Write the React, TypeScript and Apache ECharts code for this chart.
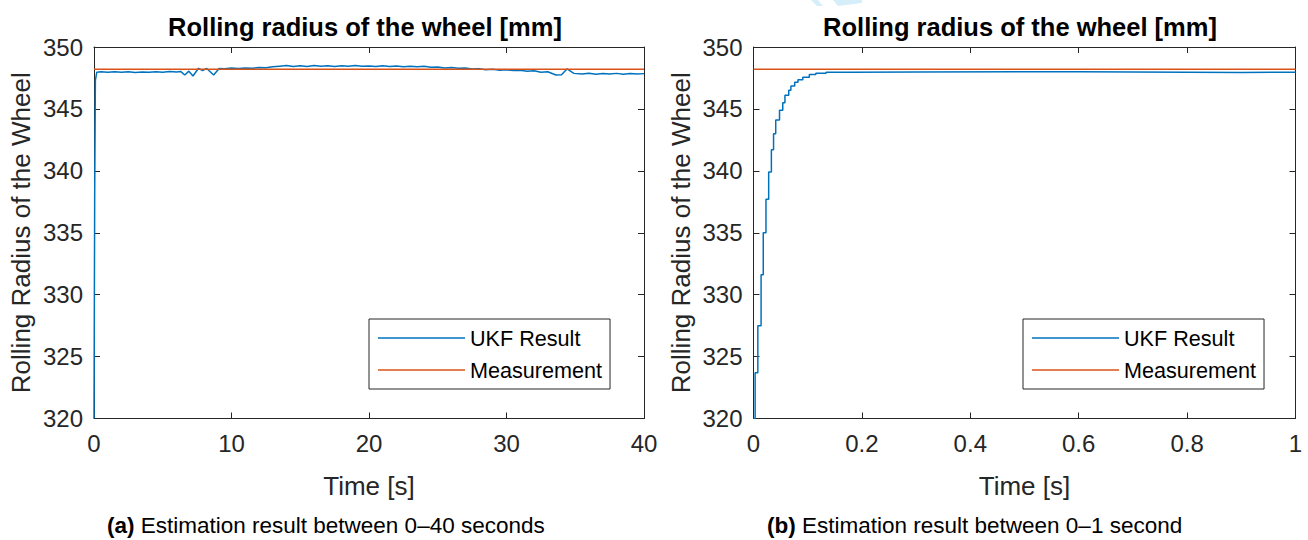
import React, { useEffect, useRef } from "react";
import * as echarts from "echarts";

const FONT = '"Liberation Sans", Arial, Helvetica, sans-serif';
const AX = "#262626";
const BLUE = "#0072BD";
const ORANGE = "#D95319";

const TITLE = "Rolling radius of the wheel [mm]";
const Y_NAME = "Rolling Radius of the Wheel";
const X_NAME = "Time [s]";
const LEGEND_NAMES = ["UKF Result", "Measurement"];
const CAPTION_A = ["(a)", " Estimation result between 0–40 seconds"];
const CAPTION_B = ["(b)", " Estimation result between 0–1 second"];

const MEASUREMENT = 348.2;

// (a) 0–40 s
const leftTime = [
  0, 0.05, 0.1, 0.2, 0.5, 1, 1.5, 2, 2.5, 3, 3.5, 4, 4.5, 5, 5.5, 6, 6.3, 6.6, 6.9, 7.2, 7.6, 7.9, 8.2,
  8.7, 9.1, 9.5, 10, 10.5, 11, 11.5, 12, 12.5, 13, 13.5, 14, 14.5, 15, 15.5, 16, 16.5, 17, 17.5, 18,
  18.5, 19, 19.5, 20, 20.5, 21, 21.5, 22, 22.5, 23, 23.5, 24, 24.5, 25, 25.5, 26, 26.5, 27, 27.5, 28,
  28.5, 29, 29.5, 30, 30.5, 31, 31.5, 32, 32.5, 33, 33.6, 34.0, 34.4, 34.9, 35.5, 36, 36.5, 37, 37.5,
  38, 38.5, 39, 39.5, 40,
];
const leftUkf = [
  320, 338, 347.3, 347.96, 348.0, 347.96, 348.01, 347.97, 348.0, 347.95, 347.99, 347.96, 348.0, 347.97,
  348.02, 347.99, 348.03, 347.74, 348.05, 347.66, 348.28, 348.1, 348.27, 347.74, 348.27, 348.25, 348.3,
  348.26, 348.31, 348.28, 348.34, 348.32, 348.4, 348.45, 348.5, 348.43, 348.48, 348.42, 348.5, 348.44,
  348.49, 348.43, 348.48, 348.44, 348.5, 348.45, 348.47, 348.42, 348.48, 348.43, 348.47, 348.41, 348.45,
  348.4, 348.44, 348.36, 348.38, 348.3, 348.34, 348.28, 348.31, 348.22, 348.25, 348.17, 348.2, 348.13,
  348.16, 348.1, 348.13, 348.05, 348.08, 347.96, 348.0, 347.74, 347.76, 348.23, 347.87, 347.82, 347.88,
  347.8, 347.86, 347.81, 347.87, 347.8, 347.86, 347.81, 347.85,
];

// (b) 0–1 s
const rightTime = [
  0, 0.003, 0.008, 0.014, 0.018, 0.023, 0.028, 0.033, 0.037, 0.041, 0.048, 0.054, 0.058, 0.065, 0.069,
  0.076, 0.082, 0.091, 0.103, 0.115, 0.134, 0.177, 0.3, 0.5, 0.6, 0.7, 0.8, 0.9, 1.0,
];
const rightUkf = [
  320, 323.7, 327.5, 331.6, 335.0, 337.7, 339.9, 341.7, 343.0, 344.1, 344.9, 345.5, 346.1, 346.5, 346.85,
  347.15, 347.35, 347.55, 347.77, 347.88, 347.96, 347.98, 348.0, 348.0, 347.98, 347.96, 347.95, 347.96,
  348.0,
];

const Y_MIN = 320;
const Y_MAX = 350;
const Y_STEP = 5;
const LEFT_X = { min: 0, max: 40, step: 10 };
const RIGHT_X = { min: 0, max: 1, step: 0.2 };

const GRIDS = [
  { left: 94, top: 47, width: 550, height: 371.5 },
  { left: 753.5, top: 47, width: 542, height: 371.5 },
];

function xAxes(gridIndex: number, r: { min: number; max: number; step: number }) {
  const base = {
    type: "value",
    gridIndex,
    min: r.min,
    max: r.max,
    interval: r.step,
    splitLine: { show: false },
    axisLine: { show: true, onZero: false, lineStyle: { color: AX, width: 1 } },
    axisTick: { show: true, inside: true, length: 6, lineStyle: { color: AX, width: 1 } },
  };
  return [
    {
      ...base,
      position: "bottom",
      axisLabel: { color: AX, fontSize: 24, fontFamily: FONT, margin: 13 },
      name: X_NAME,
      nameLocation: "middle",
      nameGap: 54,
      nameTextStyle: { color: AX, fontSize: 26, fontFamily: FONT },
    },
    { ...base, position: "top", axisLabel: { show: false } },
  ];
}

function yAxes(gridIndex: number) {
  const base = {
    type: "value",
    gridIndex,
    min: Y_MIN,
    max: Y_MAX,
    interval: Y_STEP,
    splitLine: { show: false },
    axisLine: { show: true, onZero: false, lineStyle: { color: AX, width: 1 } },
    axisTick: { show: true, inside: true, length: 6, lineStyle: { color: AX, width: 1 } },
  };
  return [
    {
      ...base,
      position: "left",
      axisLabel: { color: AX, fontSize: 24, fontFamily: FONT, margin: 11 },
      name: Y_NAME,
      nameLocation: "middle",
      nameGap: 60,
      nameTextStyle: { color: AX, fontSize: 26, fontFamily: FONT },
    },
    { ...base, position: "right", axisLabel: { show: false } },
  ];
}

function legend(left: number) {
  return {
    orient: "vertical",
    left,
    top: 319,
    data: LEGEND_NAMES,
    icon: "rect",
    itemWidth: 87,
    itemHeight: 1.5,
    itemGap: 10,
    padding: [8, 8, 8, 9],
    borderColor: AX,
    borderWidth: 1,
    backgroundColor: "#fff",
    selectedMode: false,
    textStyle: { color: "#000", fontSize: 21.6, lineHeight: 22, fontFamily: FONT },
  };
}

function title(center: number) {
  return {
    text: TITLE,
    left: center,
    top: 14,
    textAlign: "center",
    padding: 0,
    textStyle: { fontSize: 25.5, fontWeight: "bold", color: "#000", fontFamily: FONT },
  };
}

function caption(x: number, parts: string[]) {
  return {
    type: "text",
    x,
    y: 525,
    style: {
      text: `{b|${parts[0]}}${parts[1]}`,
      fontSize: 22.5,
      fontFamily: FONT,
      fill: "#000",
      verticalAlign: "middle",
      rich: { b: { fontWeight: "bold", fontSize: 22.5, fontFamily: FONT, fill: "#000" } },
    },
  };
}

export default function App() {
  const ref = useRef<HTMLDivElement>(null);
  useEffect(() => {
    if (!ref.current) return;
    const chart = echarts.init(ref.current, undefined, { renderer: "svg" });
    const line = (name: string, color: string, xi: number, yi: number, data: number[][], step?: string) => ({
      name,
      type: "line",
      xAxisIndex: xi,
      yAxisIndex: yi,
      data,
      step: step || false,
      symbol: "none",
      showSymbol: false,
      clip: true,
      lineStyle: { color, width: 1.5 },
      itemStyle: { color },
      emphasis: { disabled: true },
    });
    const option = {
      animation: false,
      textStyle: { fontFamily: FONT },
      title: [title(365), title(1020)],
      grid: GRIDS.map((g) => ({ ...g, containLabel: false })),
      xAxis: [...xAxes(0, LEFT_X), ...xAxes(1, RIGHT_X)],
      yAxis: [...yAxes(0), ...yAxes(1)],
      legend: [legend(369), legend(1023)],
      series: [
        line(LEGEND_NAMES[0], BLUE, 0, 0, leftTime.map((t, i) => [t, leftUkf[i]])),
        line(LEGEND_NAMES[1], ORANGE, 0, 0, [[LEFT_X.min, MEASUREMENT], [LEFT_X.max, MEASUREMENT]]),
        line(LEGEND_NAMES[0], BLUE, 2, 2, rightTime.map((t, i) => [t, rightUkf[i]]), "end"),
        line(LEGEND_NAMES[1], ORANGE, 2, 2, [[RIGHT_X.min, MEASUREMENT], [RIGHT_X.max, MEASUREMENT]]),
      ],
      graphic: [
        {
          type: "polygon",
          silent: true,
          shape: { points: [[811, 0], [818, 0], [823, 6], [817, 6]] },
          style: { fill: "#d6eefa" },
        },
        {
          type: "polygon",
          silent: true,
          shape: { points: [[833, 0], [862, 0], [862, 3], [838, 6]] },
          style: { fill: "#d6eefa" },
        },
        caption(107, CAPTION_A),
        caption(767, CAPTION_B),
      ],
    };
    chart.setOption(option as any);
    return () => chart.dispose();
  }, []);
  return <div ref={ref} style={{ position: "absolute", left: 0, top: 0, width: 1308, height: 540 }} />;
}
